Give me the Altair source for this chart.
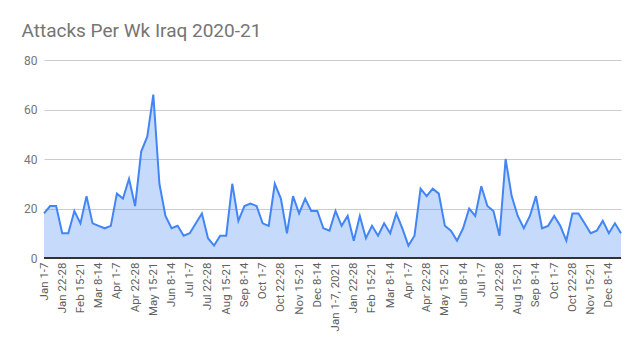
import altair as alt
import pandas as pd

months = ["Jan", "Feb", "Mar", "Apr", "May", "Jun", "Jul", "Aug", "Sep", "Oct", "Nov", "Dec"]
weeks = ["1-7", "8-14", "15-21", "22-28"]

week_labels = []
for year in (2020, 2021):
    for m in months:
        for w in weeks:
            lab = f"{m} {w}"
            if year == 2021 and m == "Jan" and w == "1-7":
                lab = "Jan 1-7, 2021"
            week_labels.append(lab)

attacks = [
    18, 21, 21, 10, 10, 19, 14, 25, 14, 13, 12, 13,
    26, 24, 32, 21, 43, 49, 66, 30, 17, 12, 13, 9,
    10, 14, 18, 8, 5, 9, 9, 30, 15, 21, 22, 21,
    14, 13, 30, 24, 10, 25, 18, 24, 19, 19, 12, 11,
    19, 13, 17, 7, 17, 8, 13, 9, 14, 10, 18, 12,
    5, 9, 28, 25, 28, 26, 13, 11, 7, 12, 20, 17,
    29, 21, 19, 9, 40, 25, 17, 12, 17, 25, 12, 13,
    17, 13, 7, 18, 18, 14, 10, 11, 15, 10, 14, 10,
]

df = pd.DataFrame({"idx": list(range(len(attacks))), "label": week_labels, "attacks": attacks})

label_array = "[" + ",".join("'" + l + "'" for l in week_labels) + "]"
tick_vals = list(range(0, len(attacks), 3))

base = alt.Chart(df).encode(
    x=alt.X(
        "idx:Q",
        scale=alt.Scale(domain=[0, len(attacks) - 1], nice=False, zero=False),
        axis=alt.Axis(
            values=tick_vals,
            labelExpr=label_array + "[datum.value]",
            labelAngle=-90,
            labelFont="Roboto",
            labelFontSize=11.5,
            labelColor="#616161",
            labelPadding=4,
            ticks=False,
            grid=False,
            domain=False,
            title=None,
        ),
    ),
    y=alt.Y(
        "attacks:Q",
        scale=alt.Scale(domain=[0, 80], nice=False),
        axis=alt.Axis(
            values=[0, 20, 40, 60, 80],
            labelFont="Roboto",
            labelFontSize=12,
            labelColor="#757575",
            labelPadding=7,
            ticks=False,
            domain=False,
            gridColor="#cccccc",
            title=None,
        ),
    ),
)

area = base.mark_area(color="#4285f4", opacity=0.3)
line = base.mark_line(color="#4285f4", strokeWidth=2)
baseline = alt.Chart(df).mark_rule(color="#333333", strokeWidth=1.5).encode(
    x=alt.value(0), x2=alt.value(577), y=alt.value(198)
)

chart = (
    alt.layer(area, line, baseline)
    .properties(
        width=577,
        height=198,
        autosize=alt.AutoSizeParams(type="none"),
        padding={"left": 44, "top": 60, "right": 18, "bottom": 94},
        title=alt.TitleParams(
            "Attacks Per Wk Iraq 2020-21",
            anchor="start",
            dx=-2,
            offset=13,
            font="Roboto",
            fontSize=19,
            fontWeight="normal",
            color="#757575",
        ),
    )
    .configure_view(stroke=None)
)

chart.save("out.html", embed_options={"renderer": "svg", "actions": False})
